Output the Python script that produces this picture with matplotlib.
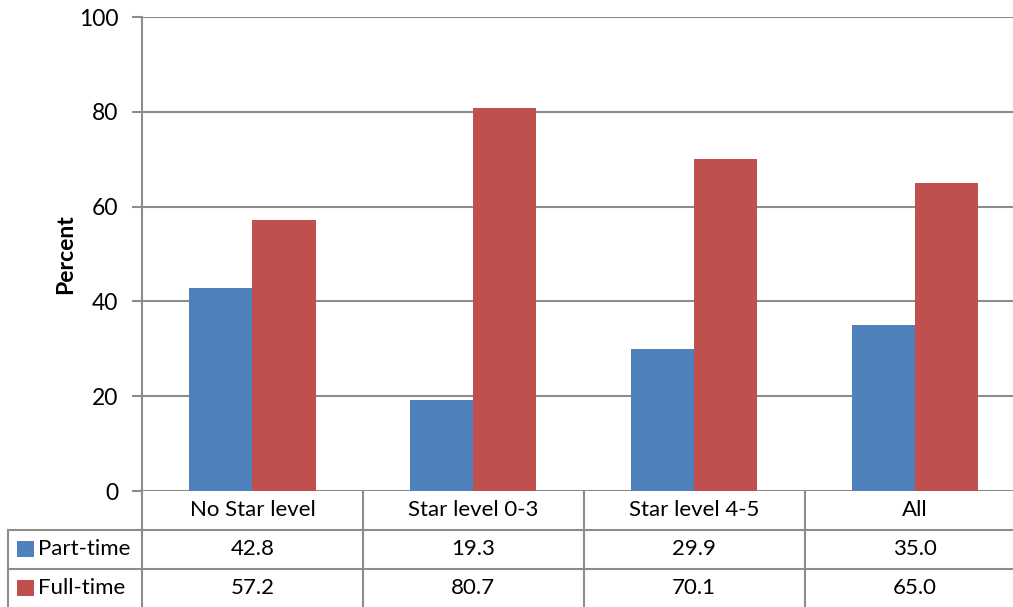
import matplotlib
matplotlib.use('Agg')
import matplotlib.pyplot as plt
import matplotlib.transforms as mtransforms
from matplotlib.patches import Rectangle
import numpy as np

categories = ['No Star level', 'Star level 0-3', 'Star level 4-5', 'All']
series_names = ['Part-time', 'Full-time']
part_time = [42.8, 19.3, 29.9, 35.0]
full_time = [57.2, 80.7, 70.1, 65.0]
colors = ['#4F81BD', '#C0504D']
yticks = [0, 20, 40, 60, 80, 100]

plt.rcParams['font.family'] = ['Lato', 'DejaVu Sans']
grid_color = '#8c8c8c'

W, H = 1013, 607
fig = plt.figure(figsize=(W / 100, H / 100), dpi=100)
# plot area in pixels (right edge runs past the image, as in the reference)
left, right, top, bottom = 142, 1025.5, 17, 491
ax = fig.add_axes([left / W, 1 - bottom / H, (right - left) / W, (bottom - top) / H])

x = np.arange(len(categories))
bw = 0.286
ax.bar(x - bw / 2, part_time, bw, color=colors[0], zorder=3)
ax.bar(x + bw / 2, full_time, bw, color=colors[1], zorder=3)

ax.set_xlim(-0.5, len(categories) - 0.5)
ax.set_ylim(0, 100)
ax.set_yticks(yticks)
ax.set_yticklabels([str(t) for t in yticks], fontsize=16.5)
ax.yaxis.grid(True, color=grid_color, linewidth=1.5, zorder=0)
ax.set_xticks([])
for s in ['top', 'right', 'bottom']:
    ax.spines[s].set_visible(False)
ax.spines['left'].set_color(grid_color)
ax.spines['left'].set_linewidth(1.5)
ax.tick_params(axis='y', length=7, width=1.5, color=grid_color, pad=10)
ax.set_ylabel('Percent', fontsize=16.5, fontweight='bold', labelpad=2)

# data table below the axes
ph = bottom - top
row_h = 38.8 / ph
trans = mtransforms.blended_transform_factory(ax.transData, ax.transAxes)
pix_x = mtransforms.blended_transform_factory(fig.transFigure, ax.transAxes)
x_left_fig = 8 / W

line_kw = dict(color=grid_color, linewidth=1.5, clip_on=False)
# horizontal lines
for r in [1, 2]:
    ax.plot([x_left_fig, 1.02], [-r * row_h, -r * row_h], transform=pix_x, **line_kw)
ax.plot([0, 0], [0, -(H - bottom) / ph - 0.01], transform=ax.transAxes, **line_kw)
ax.plot([x_left_fig, x_left_fig], [-row_h, -(H - bottom) / ph - 0.01], transform=pix_x, **line_kw)
for b in x[:-1] + 0.5:
    ax.plot([b, b], [0, -(H - bottom) / ph - 0.01], transform=trans, **line_kw)

for i, c in enumerate(categories):
    ax.text(i, -0.5 * row_h, c, transform=trans, ha='center', va='center', fontsize=16)

for r, (name, vals) in enumerate(zip(series_names, [part_time, full_time])):
    yc = -(r + 1.5) * row_h
    for i, v in enumerate(vals):
        ax.text(i, yc, f'{v:.1f}', transform=trans, ha='center', va='center', fontsize=16)
    sq = Rectangle((17 / W, yc - 8 / ph), 17 / W, 16 / ph, transform=pix_x,
                   facecolor=colors[r], edgecolor='none', clip_on=False)
    ax.add_patch(sq)
    ax.text(38 / W, yc, name, transform=pix_x, ha='left', va='center', fontsize=16)

fig.savefig('out.png', dpi=100)
